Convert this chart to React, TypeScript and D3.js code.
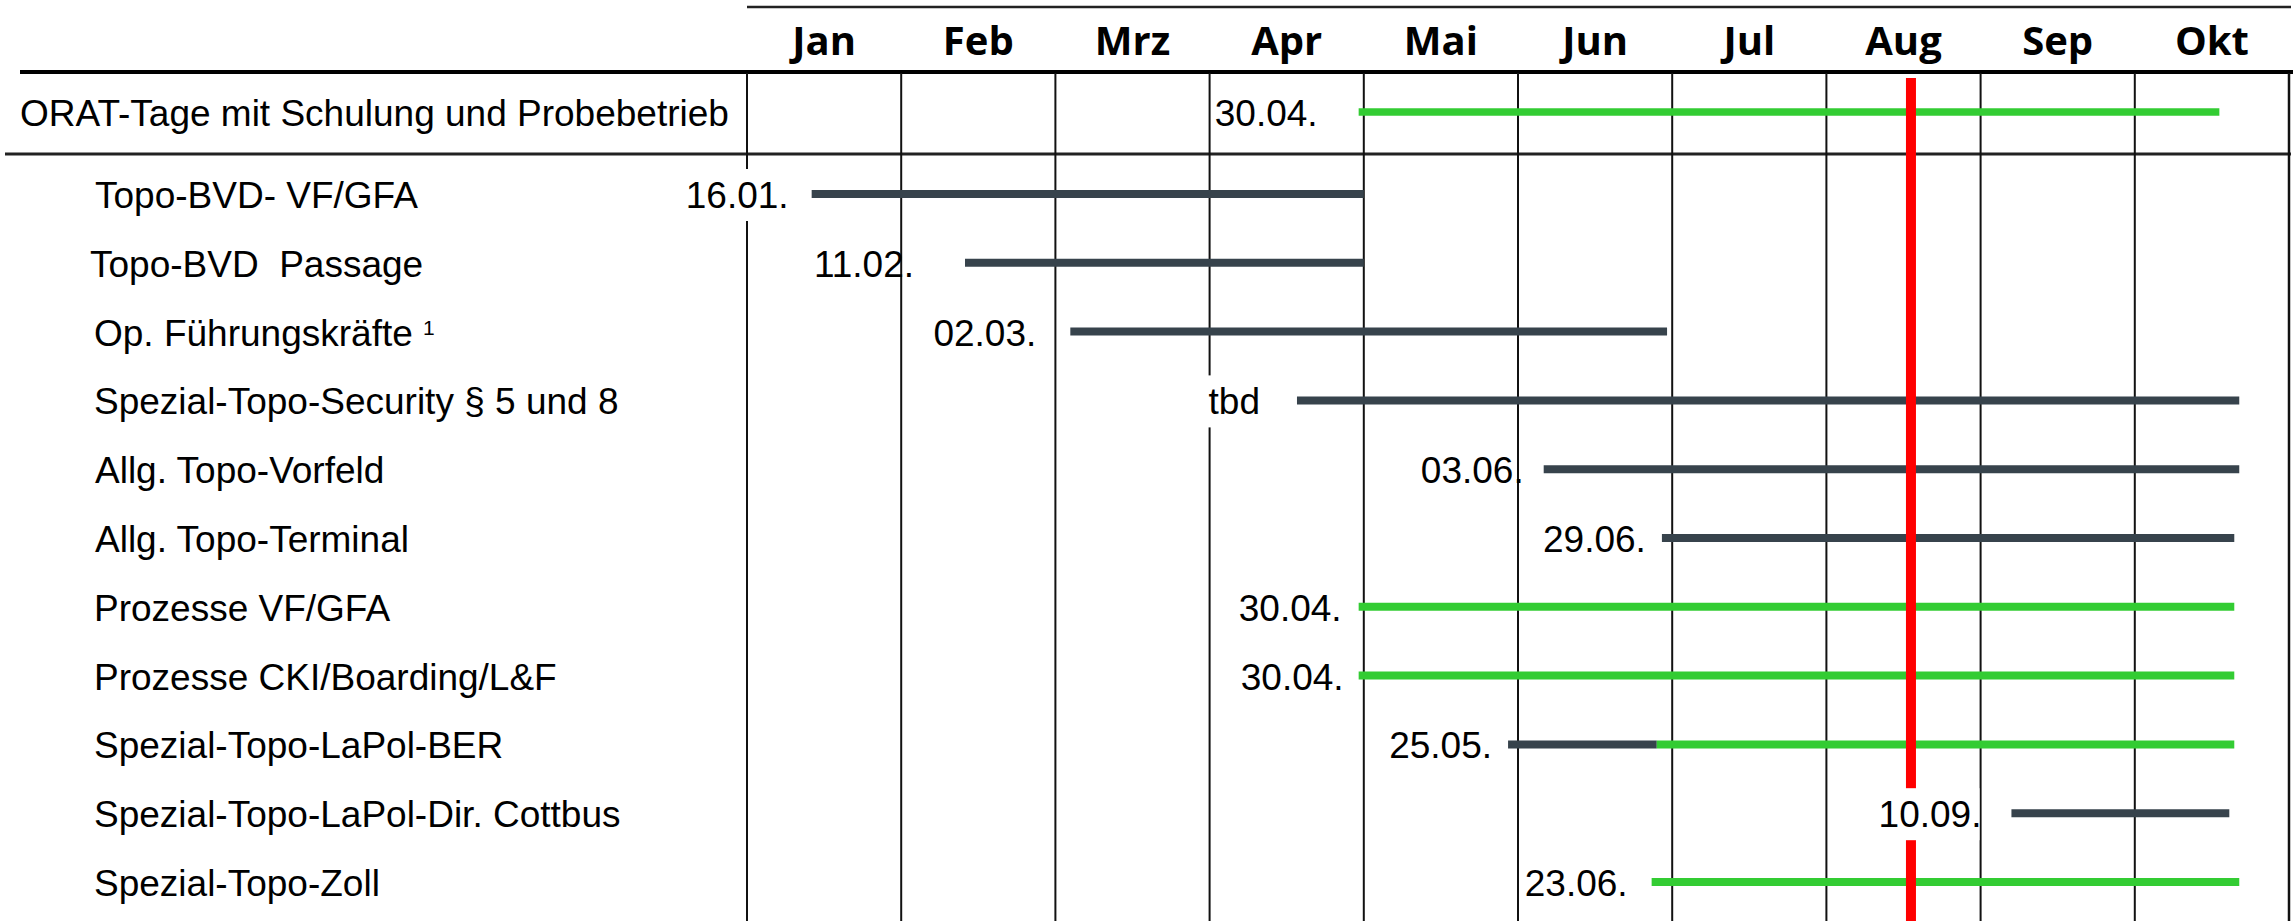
import React from "react";
import * as d3 from "d3";

// ---------- data ----------
const months = ["Jan", "Feb", "Mrz", "Apr", "Mai", "Jun", "Jul", "Aug", "Sep", "Okt"];
const yearStart = "2020-01-01";

const headerTask = "ORAT-Tage mit Schulung und Probebetrieb";
const headerDateLabel = "30.04.";
const headerStart = "2020-04-30";
const headerEnd = "2020-10-18";

const taskNames = [
  "Topo-BVD- VF/GFA",
  "Topo-BVD  Passage",
  "Op. Führungskräfte ",
  "Spezial-Topo-Security § 5 und 8",
  "Allg. Topo-Vorfeld",
  "Allg. Topo-Terminal",
  "Prozesse VF/GFA",
  "Prozesse CKI/Boarding/L&F",
  "Spezial-Topo-LaPol-BER",
  "Spezial-Topo-LaPol-Dir. Cottbus",
  "Spezial-Topo-Zoll",
];
const taskFootnotes = ["", "", "1", "", "", "", "", "", "", "", ""];
const dateLabels = ["16.01.", "11.02.", "02.03.", "tbd", "03.06.", "29.06.", "30.04.", "30.04.", "25.05.", "10.09.", "23.06."];
const startDates = ["2020-01-14", "2020-02-13", "2020-03-04", "2020-04-18", "2020-06-06", "2020-06-29", "2020-04-30", "2020-04-30", "2020-05-30", "2020-09-07", "2020-06-27"];
// date from which the bar is shown green (null = never)
const greenFrom = [null, null, null, null, null, null, "2020-04-30", "2020-04-30", "2020-06-28", null, "2020-06-27"];
const endDates = ["2020-05-01", "2020-05-01", "2020-06-30", "2020-10-22", "2020-10-22", "2020-10-21", "2020-10-21", "2020-10-21", "2020-10-21", "2020-10-20", "2020-10-22"];
const todayMarker = "2020-08-18";

// ---------- layout / style (not data) ----------
const W = 2293;
const H = 921;
const labelGap = [26, 54, 37, 40, 23, 19, 20, 18, 19, 33, 27];
const headerLabelGap = 44;
const labelBoxed = [true, false, false, true, false, false, false, false, false, true, false];
const nameX = [95, 90, 94, 94, 95, 95, 94, 94, 94, 94, 94];
const DARK = "#37434c";
const GREEN = "#33cc33";
const RED = "#ff0000";
const FONT = "'Liberation Sans', Arial, sans-serif";
const FS = 37;

const parse = d3.utcParse("%Y-%m-%d");
const base = parse(yearStart) as Date;
function monthPos(s: string): number {
  const d = parse(s) as Date;
  const m0 = d3.utcMonth.floor(d);
  const m1 = d3.utcMonth.offset(m0, 1);
  const idx = d3.utcMonth.count(base, m0);
  return idx + (+d - +m0) / (+m1 - +m0);
}

export default function App() {
  const x = d3.scaleLinear().domain([0, months.length]).range([747, 2289]);
  const y = d3.scalePoint<string>().domain(taskNames).range([194, 882]);
  const headerY = 112;
  const colW = x(1) - x(0);
  const gridTop = 73;

  const boundaries = d3.range(0, months.length + 1);

  const labelInfo = taskNames.map((t, i) => {
    const xs = x(monthPos(startDates[i]));
    const xEnd = xs - labelGap[i] + 3;
    const w = dateLabels[i].length * 0.556 * FS;
    return { xs, xEnd, w };
  });

  const redX = x(monthPos(todayMarker));

  return (
    <svg
      width={W}
      height={H}
      style={{ position: "absolute", left: 0, top: 0, background: "#fff" }}
      fontFamily={FONT}
    >
      <rect x={0} y={0} width={W} height={H} fill="#fff" />
      {/* horizontal lines */}
      <line x1={747} x2={2291} y1={7} y2={7} stroke="#222" strokeWidth={2.5} />
      <line x1={20} x2={W} y1={72} y2={72} stroke="#000" strokeWidth={4} />
      <line x1={5} x2={2291} y1={154} y2={154} stroke="#222" strokeWidth={3} />

      {/* vertical grid lines */}
      {boundaries.map((b) => (
        <line
          key={"v" + b}
          x1={x(b)}
          x2={x(b)}
          y1={gridTop}
          y2={H}
          stroke="#111"
          strokeWidth={b === months.length ? 2.5 : 2}
        />
      ))}

      {/* month headers */}
      {months.map((m, i) => (
        <text
          key={m}
          x={x(i) + colW / 2}
          y={55}
          textAnchor="middle"
          fontFamily="'Open Sans', 'Noto Sans', sans-serif"
          fontWeight={700}
          fontSize={40}
          fill="#000"
        >
          {m}
        </text>
      ))}

      {/* header task */}
      <text x={20} y={headerY + 13.5} fontSize={FS} fill="#000">
        {headerTask}
      </text>
      <line
        x1={x(monthPos(headerStart))}
        x2={x(monthPos(headerEnd))}
        y1={headerY}
        y2={headerY}
        stroke={GREEN}
        strokeWidth={7.5}
      />

      {/* task bars */}
      {taskNames.map((t, i) => {
        const yy = y(t) as number;
        const xs = x(monthPos(startDates[i]));
        const xe = x(monthPos(endDates[i]));
        const g = greenFrom[i];
        if (!g) {
          return <line key={"b" + i} x1={xs} x2={xe} y1={yy} y2={yy} stroke={DARK} strokeWidth={8} />;
        }
        const xg = x(monthPos(g));
        return (
          <g key={"b" + i}>
            {xg > xs && <line x1={xs} x2={xg} y1={yy} y2={yy} stroke={DARK} strokeWidth={8} />}
            <line x1={Math.max(xs, xg)} x2={xe} y1={yy} y2={yy} stroke={GREEN} strokeWidth={8} />
          </g>
        );
      })}

      {/* today marker */}
      <rect x={redX - 5} y={78} width={10} height={H - 78} fill={RED} />

      {/* label boxes */}
      {taskNames.map((t, i) => {
        if (!labelBoxed[i]) return null;
        const yy = y(t) as number;
        const { xEnd, w } = labelInfo[i];
        return (
          <rect
            key={"lb" + i}
            x={xEnd - w - 1}
            y={yy - 25}
            width={w - 1}
            height={52}
            fill="#fff"
          />
        );
      })}

      {/* header date label */}
      <text
        x={x(monthPos(headerStart)) - headerLabelGap + 3}
        y={headerY + 13.5}
        textAnchor="end"
        fontSize={FS}
        fill="#000"
      >
        {headerDateLabel}
      </text>

      {/* task names & date labels */}
      {taskNames.map((t, i) => {
        const yy = y(t) as number;
        return (
          <g key={"t" + i}>
            <text x={nameX[i]} y={yy + 14} fontSize={FS} fill="#000" style={{ whiteSpace: "pre" }}>
              {t}
              {taskFootnotes[i] && (
                <tspan fontSize={21} dy={-11}>
                  {taskFootnotes[i]}
                </tspan>
              )}
            </text>
            <text x={labelInfo[i].xEnd} y={yy + 14} textAnchor="end" fontSize={FS} fill="#000">
              {dateLabels[i]}
            </text>
          </g>
        );
      })}
    </svg>
  );
}
